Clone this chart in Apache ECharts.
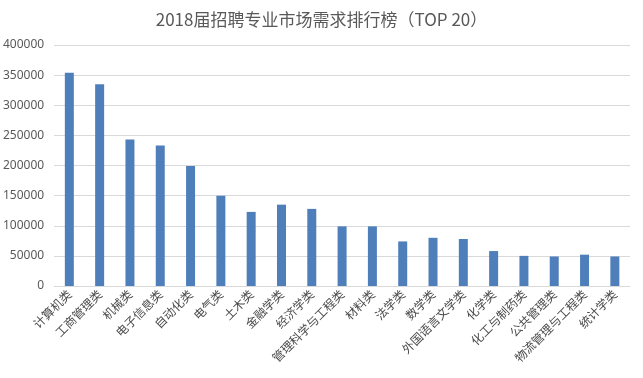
<!DOCTYPE html>
<html>
<head>
<meta charset="utf-8">
<script src="https://cdn.jsdelivr.net/npm/echarts@6/dist/echarts.min.js"></script>
<style>
  html, body { margin: 0; padding: 0; background: #fff; }
  #chart { width: 643px; height: 378px; }
</style>
</head>
<body>
<div id="chart"></div>
<script>
// 专业类别
const majors = ['计算机类', '工商管理类', '机械类', '电子信息类', '自动化类', '电气类', '土木类', '金融学类', '经济学类',
  '管理科学与工程类', '材料类', '法学类', '数学类', '外国语言文学类', '化学类', '化工与制药类', '公共管理类', '物流管理与工程类', '统计学类']
// 需求量
const demand = [354000, 335000, 243000, 233000, 199000, 150000, 123000, 135000, 128000,
  99000, 99000, 74000, 80000, 78000, 58000, 50000, 49000, 52000, 49000]
const yTicks = { min: 0, max: 400000, interval: 50000 }

const chart = echarts.init(document.getElementById('chart'))

const option = {
  animation: false,
  title: {
    text: '2018届招聘专业市场需求排行榜（TOP 20）',
    left: 'center',
    top: 6,
    textStyle: {
      fontFamily: 'Noto Sans CJK SC',
      fontWeight: 'normal',
      fontSize: 17,
      color: '#595959'
    }
  },
  grid: {
    left: 53,
    right: 13,
    top: 45,
    bottom: 92
  },
  xAxis: {
    type: 'category',
    data: majors,
    axisTick: { show: false },
    axisLine: { lineStyle: { color: '#d9d9d9' } },
    axisLabel: {
      rotate: 45,
      interval: 0,
      margin: 6,
      fontFamily: 'Noto Sans CJK SC',
      fontSize: 12,
      color: '#4a4a4a'
    }
  },
  yAxis: {
    type: 'value',
    min: yTicks.min,
    max: yTicks.max,
    interval: yTicks.interval,
    axisLine: { show: false },
    axisTick: { show: false },
    splitLine: { lineStyle: { color: '#d9d9d9' } },
    axisLabel: {
      margin: 10,
      fontFamily: 'Noto Sans',
      fontSize: 12,
      color: '#595959',
      formatter: function (v) {
        return String(v)
      }
    }
  },
  series: [{
    type: 'bar',
    data: demand,
    barWidth: 9,
    itemStyle: { color: '#4f7fba' }
  }]
}

chart.setOption(option)
</script>
</body>
</html>
